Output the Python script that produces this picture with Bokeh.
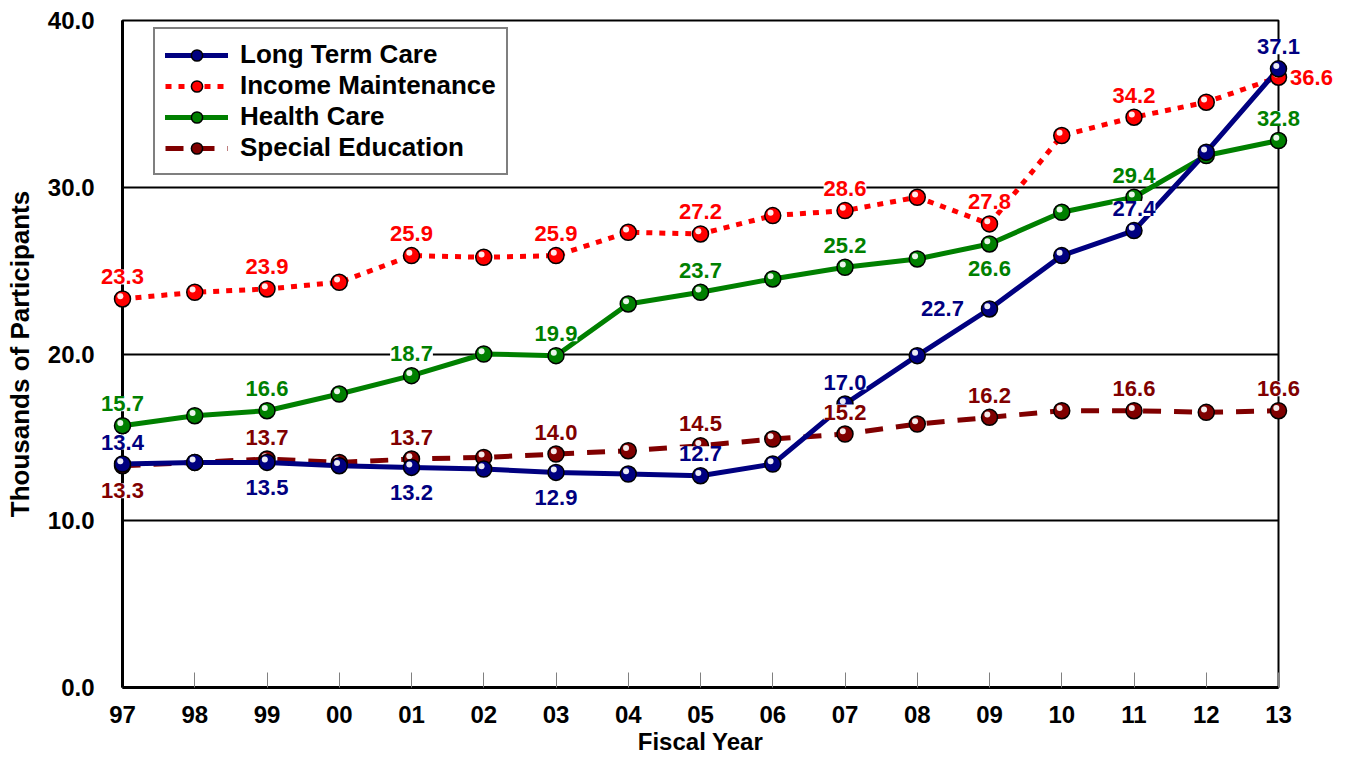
from bokeh.plotting import figure
from bokeh.models import (ColumnDataSource, Legend, LegendItem,
                          FixedTicker, Range1d, NumeralTickFormatter)
from bokeh.core.properties import value
from bokeh.embed import file_html
from bokeh.resources import INLINE

# ---------------- data ----------------
YEARS = ["97", "98", "99", "00", "01", "02", "03", "04", "05",
         "06", "07", "08", "09", "10", "11", "12", "13"]
LONG_TERM_CARE = [13.4, 13.5, 13.5, 13.3, 13.2, 13.1, 12.9, 12.8, 12.7,
                  13.4, 17.0, 19.9, 22.7, 25.9, 27.4, 32.1, 37.1]
INCOME_MAINTENANCE = [23.3, 23.7, 23.9, 24.3, 25.9, 25.8, 25.9, 27.3, 27.2,
                      28.3, 28.6, 29.4, 27.8, 33.1, 34.2, 35.1, 36.6]
HEALTH_CARE = [15.7, 16.3, 16.6, 17.6, 18.7, 20.0, 19.9, 23.0, 23.7,
               24.5, 25.2, 25.7, 26.6, 28.5, 29.4, 31.9, 32.8]
SPECIAL_EDUCATION = [13.3, 13.5, 13.7, 13.5, 13.7, 13.8, 14.0, 14.2, 14.5,
                     14.9, 15.2, 15.8, 16.2, 16.6, 16.6, 16.5, 16.6]
Y_TICKS = [0, 10, 20, 30, 40]

# ---------------- styling ----------------
FONT = "Liberation Sans"
NARROW = "'Liberation Sans Narrow', 'Liberation Sans', Arial"
W, H = 1333, 763
BL, BR, BT, BB = 122, 55, 20, 76
FRAME_W = W - BL - BR
FRAME_H = H - BT - BB
NX = len(YEARS) - 1
PX_X = FRAME_W / NX
PX_Y = FRAME_H / 40.0

LABEL_IDX = list(range(0, len(YEARS), 2))
# screen offsets (text glyph: positive y is down)
OFFSETS = {"above": (0, -22), "below": (0, 25), "left": (-47, 0), "right": (33, 0)}

series = [
    # name, values, color, dash, placements (overrides; default above)
    ("Special Education", SPECIAL_EDUCATION, "#800000", "18 13", {0: "below"}),
    ("Health Care", HEALTH_CARE, "#008000", "solid", {12: "below"}),
    ("Income Maintenance", INCOME_MAINTENANCE, "#FF0000", "6 7", {16: "right"}),
    ("Long Term Care", LONG_TERM_CARE, "#000080", "solid",
     {2: "below", 4: "below", 6: "below", 12: "left"}),
]

p = figure(width=W, height=H, x_range=Range1d(0, NX), y_range=Range1d(0, 40),
           output_backend="svg", toolbar_location=None,
           min_border_left=BL, min_border_right=BR,
           min_border_top=BT, min_border_bottom=BB,
           background_fill_color="white", border_fill_color="white")

p.outline_line_color = "black"
p.outline_line_width = 2

# axes
p.xaxis.ticker = FixedTicker(ticks=list(range(len(YEARS))))
p.xaxis.major_label_overrides = {i: y for i, y in enumerate(YEARS)}
p.xaxis.major_tick_in = 15
p.xaxis.major_tick_out = 0
p.xaxis.major_tick_line_color = "#808080"
p.xaxis.major_tick_line_width = 1
p.xaxis.minor_tick_line_color = None
p.xaxis.axis_line_width = 3
p.xaxis.axis_line_color = "black"
p.xaxis.major_label_standoff = 18
p.xaxis.major_label_text_font = NARROW
p.xaxis.major_label_text_font_style = "bold"
p.xaxis.major_label_text_font_size = "24px"
p.xaxis.major_label_text_color = "black"
p.xaxis.axis_label = "Fiscal Year"
p.xaxis.axis_label_text_font = NARROW
p.xaxis.axis_label_text_font_style = "bold"
p.xaxis.axis_label_text_font_size = "24px"
p.xaxis.axis_label_text_color = "black"
p.xaxis.axis_label_standoff = 2

p.yaxis.ticker = FixedTicker(ticks=Y_TICKS)
p.yaxis.formatter = NumeralTickFormatter(format="0.0")
p.yaxis.major_tick_line_color = None
p.yaxis.minor_tick_line_color = None
p.yaxis.axis_line_width = 3
p.yaxis.axis_line_color = "black"
p.yaxis.major_label_standoff = 22
p.yaxis.major_label_text_font = FONT
p.yaxis.major_label_text_font_style = "bold"
p.yaxis.major_label_text_font_size = "24px"
p.yaxis.major_label_text_color = "black"
p.yaxis.axis_label = "Thousands of Participants"
p.yaxis.axis_label_text_font = FONT
p.yaxis.axis_label_text_font_style = "bold"
p.yaxis.axis_label_text_font_size = "26px"
p.yaxis.axis_label_text_color = "black"
p.yaxis.axis_label_standoff = 10

p.xgrid.grid_line_color = None
p.ygrid.ticker = FixedTicker(ticks=Y_TICKS)
p.ygrid.grid_line_color = "black"
p.ygrid.grid_line_width = 2

xs = list(range(len(YEARS)))
legend_items = {}
label_sources = []

for name, vals, color, dash, place in series:
    src = ColumnDataSource(dict(x=xs, y=vals))
    ln = p.line("x", "y", source=src, line_color=color, line_width=5,
                line_dash=dash, line_cap="butt" if dash != "solid" else "round")
    mk = p.scatter("x", "y", source=src, size=16, marker="circle",
                   fill_color=color, line_color="black", line_width=1.5,
                   level="overlay")
    hsrc = ColumnDataSource(dict(x=[v - 2.2 / PX_X for v in xs],
                                 y=[v + 2.8 / PX_Y for v in vals]))
    p.scatter("x", "y", source=hsrc, size=6, marker="circle",
              fill_color="white", fill_alpha=0.92, line_color=None,
              level="overlay")
    legend_items[name] = LegendItem(label=name, renderers=[ln, mk])

    lx, ly, lt, xo, yo = [], [], [], [], []
    for i in LABEL_IDX:
        pos = place.get(i, "above")
        dx, dy = OFFSETS[pos]
        lx.append(xs[i]); ly.append(vals[i]); lt.append(f"{vals[i]:.1f}")
        xo.append(dx); yo.append(dy)
    label_sources.append((ColumnDataSource(dict(x=lx, y=ly, t=lt, xo=xo, yo=yo)), color))

for lsrc, color in label_sources:
    p.text("x", "y", text="t", source=lsrc, x_offset="xo", y_offset="yo",
           text_align="center", text_baseline="middle",
           text_font=value(FONT), text_font_style="bold",
           text_font_size="22px", text_color=color,
           background_fill_color="white", level="overlay")

order = ["Long Term Care", "Income Maintenance", "Health Care", "Special Education"]
LEG_H = 2 * 10 + 4 * 31
legend = Legend(items=[legend_items[n] for n in order],
                location=(31, FRAME_H - 11 - LEG_H),
                padding=10, spacing=0, margin=0,
                glyph_width=63, glyph_height=28, label_height=28,
                label_standoff=12,
                label_text_font=FONT, label_text_font_style="bold",
                label_text_font_size="26px", label_text_color="black",
                border_line_color="black", border_line_width=2,
                background_fill_color="white", background_fill_alpha=1.0)
p.add_layout(legend)

open("out.html", "w").write(file_html(p, INLINE))
